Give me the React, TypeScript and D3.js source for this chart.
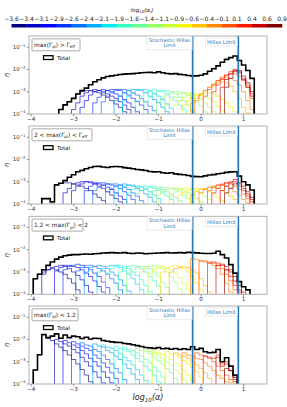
import React from 'react';
import * as d3 from 'd3';

// ---------- data ----------
const BIN0 = -3.95; // left edge of bin 0 (log10 alpha)
const BW = 0.1;     // bin width
const ALPHA_I = [-3.6, -3.35, -3.1, -2.85, -2.6, -2.35, -2.1, -1.85, -1.6, -1.35, -1.1, -0.85, -0.6, -0.35, -0.1, 0.15, 0.4, 0.65, 0.9];
const CB_LABELS = ['−3.6', '−3.4', '−3.1', '−2.9', '−2.6', '−2.4', '−2.1', '−1.9', '−1.6', '−1.4', '−1.1', '−0.9', '−0.6', '−0.4', '−0.1', '0.1', '0.4', '0.6', '0.9'];
const X_TICKS = [-4, -3, -2, -1, 0, 1];
const X_TICK_LABELS = ['−4', '−3', '−2', '−1', '0', '1'];
const Y_TICKS = [-4, -3, -2, -1];
const Y_TICK_LABELS = ['−4', '−3', '−2', '−1'];
const STOCHASTIC_LIMIT = -0.2;
const HILLAS_LIMIT = 0.875;

const PANEL_TEXT = [
  { pre: '', mid: ' > Γ', midSub: 'eff' },
  { pre: '2 < ', mid: ' < Γ', midSub: 'eff' },
  { pre: '1.2 < ', mid: ' < 2', midSub: '' },
  { pre: '', mid: ' < 1.2', midSub: '' },
];
const PANEL_BOX_W = [48, 60, 51, 46];

// totals (log10 eta), start bin
const TOTAL_START = [6, 2, 0, 0];
const TOTAL_1 = [-3.8, -3.59, -3.45, -3.3, -3.1, -2.95, -2.84, -2.69, -2.55, -2.46, -2.38, -2.32, -2.29, -2.26, -2.23, -2.21, -2.2, -2.19, -2.17, -2.15, -2.14, -2.13, -2.15, -2.11, -2.15, -2.18, -2.2, -2.19, -2.22, -2.24, -2.27, -2.29, -2.29, -2.26, -2.2, -2.08, -1.97, -1.84, -1.68, -1.55, -1.47, -1.4, -1.6, -1.8, -2.05, -2.4];
const TOTAL_2 = [-3.76, -3.76, -3.9, -3.14, -3.07, -2.95, -2.8, -2.69, -2.55, -2.49, -2.42, -2.36, -2.32, -2.31, -2.34, -2.36, -2.33, -2.32, -2.33, -2.37, -2.39, -2.42, -2.45, -2.47, -2.5, -2.54, -2.56, -2.55, -2.6, -2.62, -2.6, -2.65, -2.67, -2.69, -2.72, -2.76, -2.77, -2.78, -2.74, -2.7, -2.68, -2.64, -2.62, -2.58, -2.56, -2.55, -2.75, -3.0, -3.14, -3.37];
const TOTAL_3 = [-3.3, -3.1, -2.9, -2.7, -2.55, -2.42, -2.33, -2.27, -2.24, -2.22, -2.22, -2.2, -2.19, -2.2, -2.18, -2.17, -2.15, -2.14, -2.13, -2.14, -2.15, -2.13, -2.16, -2.17, -2.15, -2.16, -2.18, -2.17, -2.16, -2.15, -2.14, -2.13, -2.15, -2.14, -2.13, -2.14, -2.12, -2.13, -2.14, -2.16, -2.17, -2.17, -2.16, -2.07, -2.22, -2.37, -2.67, -3.05, -3.43, -3.66, -3.8];
const TOTAL_4 = [-3.37, -2.69, -1.78, -1.92, -1.85, -1.75, -1.95, -1.8, -1.92, -1.85, -1.88, -1.96, -1.9, -1.98, -1.95, -1.96, -2.05, -2.08, -2.11, -2.13, -2.14, -2.18, -2.2, -2.24, -2.28, -2.32, -2.36, -2.38, -2.4, -2.37, -2.42, -2.4, -2.44, -2.41, -2.45, -2.42, -2.45, -2.33, -2.45, -2.4, -2.55, -2.6, -2.58, -2.45, -3.0, -2.82, -3.2, -3.6];

// per-alpha_i series: start bins and log10 eta values
const P1_STARTS = [6, 9, 11, 14, 16, 19, 21, 24, 26, 29, 31, 33, 35, 37, 38, 40, 42, 44, 45];
const P1_VALUES = [
  [-3.8, -3.6, -3.45, -3.3, -3.1, -3.0, -2.95, -2.95, -3.0, -3.05, -3.15, -3.25, -3.4, -3.55, -3.7, -3.9],
  [-3.8, -3.5, -3.2, -3.05, -2.95, -2.9, -2.95, -3.0, -3.1, -3.2, -3.3, -3.45, -3.6, -3.8],
  [-3.7, -3.4, -3.15, -3.0, -2.95, -2.9, -2.95, -3.0, -3.1, -3.2, -3.35, -3.5, -3.7, -3.9],
  [-3.5, -3.25, -3.05, -2.95, -2.9, -2.9, -2.95, -3.05, -3.15, -3.3, -3.45, -3.6, -3.8],
  [-3.45, -3.2, -3.05, -2.95, -2.9, -2.9, -2.95, -3.05, -3.15, -3.3, -3.45, -3.65, -3.85],
  [-3.4, -3.2, -3.05, -2.95, -2.9, -2.9, -2.95, -3.05, -3.2, -3.35, -3.5, -3.7, -3.9],
  [-3.4, -3.2, -3.05, -2.95, -2.9, -2.9, -3.0, -3.1, -3.2, -3.35, -3.55, -3.75],
  [-3.4, -3.2, -3.05, -2.95, -2.9, -2.95, -3.0, -3.1, -3.25, -3.4, -3.6, -3.8],
  [-3.45, -3.25, -3.1, -3.0, -2.95, -2.95, -3.0, -3.1, -3.25, -3.4, -3.6, -3.85],
  [-3.5, -3.3, -3.15, -3.05, -3.0, -3.0, -3.05, -3.15, -3.3, -3.45, -3.65, -3.9],
  [-3.55, -3.35, -3.2, -3.1, -3.05, -3.05, -3.1, -3.2, -3.3, -3.5, -3.7, -3.9],
  [-3.6, -3.4, -3.25, -3.15, -3.1, -3.1, -3.15, -3.2, -3.3, -3.45, -3.65, -3.85],
  [-3.6, -3.4, -3.25, -3.15, -3.1, -3.05, -3.05, -3.1, -3.2, -3.35, -3.5, -3.7, -3.9],
  [-3.5, -3.3, -3.1, -2.95, -2.8, -2.7, -2.6, -2.55, -2.6, -2.75, -3.0, -3.3, -3.7, -3.95],
  [-3.4, -3.15, -2.95, -2.8, -2.65, -2.5, -2.4, -2.35, -2.4, -2.5, -2.7, -3.0, -3.4, -3.8],
  [-3.2, -2.9, -2.7, -2.5, -2.35, -2.25, -2.2, -2.2, -2.3, -2.5, -2.8, -3.3],
  [-3.0, -2.7, -2.45, -2.25, -2.1, -2.05, -2.1, -2.4, -2.7, -3.1],
  [-2.8, -2.45, -2.2, -2.0, -2.15, -2.45, -2.8, -3.2],
  [-2.8, -2.4, -2.1, -2.05, -2.3, -2.6, -3.0],
];
const P2_STARTS = [2, 7, 9, 12, 14, 17, 19, 22, 24, 27, 29, 32, 34, 37, 39, 41, 42, 44, 45];
const P2_VALUES = [
  [-3.76, -3.76, -3.95, -3.14, -3.07, -3.05, -3.05, -3.1, -3.15, -3.2, -3.3, -3.4, -3.55, -3.7, -3.85],
  [-3.5, -3.3, -3.1, -3.05, -3.0, -3.0, -3.05, -3.1, -3.2, -3.3, -3.45, -3.6, -3.75, -3.9],
  [-3.4, -3.2, -3.1, -3.0, -3.0, -3.05, -3.1, -3.15, -3.25, -3.35, -3.5, -3.65, -3.8],
  [-3.4, -3.2, -3.1, -3.05, -3.05, -3.1, -3.15, -3.2, -3.3, -3.45, -3.6, -3.8],
  [-3.4, -3.25, -3.15, -3.1, -3.1, -3.1, -3.15, -3.25, -3.35, -3.5, -3.65, -3.85],
  [-3.45, -3.3, -3.2, -3.15, -3.1, -3.15, -3.2, -3.3, -3.4, -3.55, -3.7, -3.9],
  [-3.5, -3.3, -3.2, -3.15, -3.15, -3.2, -3.25, -3.35, -3.45, -3.6, -3.75],
  [-3.5, -3.35, -3.25, -3.2, -3.2, -3.25, -3.3, -3.4, -3.5, -3.65, -3.8],
  [-3.55, -3.4, -3.3, -3.2, -3.2, -3.25, -3.35, -3.45, -3.55, -3.7, -3.85],
  [-3.55, -3.4, -3.3, -3.25, -3.25, -3.3, -3.35, -3.45, -3.6, -3.75, -3.9],
  [-3.6, -3.45, -3.35, -3.3, -3.3, -3.3, -3.4, -3.5, -3.6, -3.75, -3.9],
  [-3.6, -3.45, -3.35, -3.3, -3.3, -3.35, -3.4, -3.5, -3.65, -3.8],
  [-3.6, -3.5, -3.4, -3.35, -3.3, -3.3, -3.35, -3.45, -3.55, -3.7, -3.85],
  [-3.6, -3.45, -3.35, -3.3, -3.25, -3.25, -3.3, -3.4, -3.5, -3.65, -3.8],
  [-3.5, -3.35, -3.25, -3.2, -3.15, -3.15, -3.2, -3.3, -3.45, -3.6, -3.8, -3.95],
  [-3.4, -3.25, -3.15, -3.1, -3.05, -3.1, -3.2, -3.35, -3.55, -3.75],
  [-3.5, -3.3, -3.15, -3.05, -3.0, -3.0, -3.2, -3.4, -3.65, -3.9],
  [-3.4, -3.2, -3.05, -2.9, -3.1, -3.3, -3.55, -3.8],
  [-3.5, -3.3, -3.1, -3.05, -3.2, -3.45, -3.7],
];
const P3_STARTS = [0, 2, 5, 7, 10, 12, 15, 17, 20, 22, 25, 27, 30, 32, 37, 39, 41, 43, 45];
const P3_VALUES = [
  [-3.3, -3.1, -3.0, -2.9, -2.85, -2.9, -3.0, -3.1, -3.3, -3.5, -3.8],
  [-3.1, -2.9, -2.8, -2.75, -2.7, -2.75, -2.85, -3.0, -3.15, -3.35, -3.6, -3.9],
  [-2.95, -2.8, -2.7, -2.7, -2.75, -2.8, -2.9, -3.05, -3.2, -3.4, -3.65, -3.9],
  [-2.9, -2.75, -2.7, -2.65, -2.7, -2.8, -2.9, -3.05, -3.2, -3.45, -3.7],
  [-2.95, -2.8, -2.7, -2.7, -2.75, -2.85, -2.95, -3.1, -3.3, -3.5, -3.8],
  [-3.0, -2.8, -2.75, -2.7, -2.75, -2.85, -3.0, -3.15, -3.35, -3.6, -3.85],
  [-3.0, -2.85, -2.75, -2.7, -2.7, -2.8, -2.95, -3.1, -3.3, -3.55, -3.8],
  [-3.05, -2.85, -2.75, -2.7, -2.75, -2.85, -3.0, -3.15, -3.35, -3.6, -3.9],
  [-3.0, -2.85, -2.75, -2.7, -2.75, -2.85, -3.0, -3.2, -3.4, -3.65],
  [-3.05, -2.9, -2.8, -2.75, -2.75, -2.85, -3.0, -3.2, -3.45, -3.7],
  [-3.0, -2.85, -2.75, -2.7, -2.75, -2.85, -3.0, -3.2, -3.45, -3.75],
  [-3.05, -2.9, -2.8, -2.75, -2.8, -2.9, -3.05, -3.25, -3.5, -3.8],
  [-3.0, -2.85, -2.75, -2.7, -2.75, -2.85, -3.0, -3.2, -3.5, -3.8],
  [-3.0, -2.85, -2.8, -2.75, -2.8, -2.9, -3.05, -3.3, -3.6, -3.9],
  [-2.4, -2.45, -2.5, -2.55, -2.6, -2.7, -2.85, -3.1, -3.5, -3.9],
  [-2.5, -2.5, -2.55, -2.6, -2.7, -2.85, -3.1, -3.4, -3.8],
  [-2.6, -2.55, -2.6, -2.7, -2.9, -3.2, -3.6, -3.9],
  [-2.7, -2.65, -2.75, -3.0, -3.4, -3.8],
  [-2.9, -2.9, -3.2, -3.6, -3.9],
];
const P4_STARTS = [0, 5, 7, 9, 11, 14, 16, 19, 21, 24, 26, 28, 31, 33, 35, 38, 40, 43, 45];
const P4_VALUES = [
  [-3.37, -2.69, -1.8, -1.95, -2.05, -2.2, -2.35, -2.5, -2.7, -2.9, -3.1, -3.35, -3.6, -3.9],
  [-2.0, -2.1, -2.2, -2.3, -2.45, -2.6, -2.8, -3.0, -3.2, -3.45, -3.7, -3.95],
  [-2.05, -2.15, -2.25, -2.35, -2.5, -2.65, -2.85, -3.0, -3.2, -3.45, -3.7, -3.95],
  [-2.1, -2.2, -2.3, -2.4, -2.5, -2.7, -2.85, -3.05, -3.25, -3.5, -3.75],
  [-2.15, -2.25, -2.3, -2.45, -2.55, -2.7, -2.9, -3.1, -3.3, -3.5, -3.8],
  [-2.2, -2.3, -2.35, -2.5, -2.6, -2.75, -2.9, -3.1, -3.3, -3.55, -3.8],
  [-2.25, -2.35, -2.4, -2.5, -2.65, -2.8, -2.95, -3.15, -3.35, -3.6, -3.85],
  [-2.3, -2.4, -2.45, -2.55, -2.7, -2.85, -3.0, -3.2, -3.4, -3.6, -3.9],
  [-2.35, -2.45, -2.5, -2.6, -2.75, -2.9, -3.05, -3.25, -3.45, -3.7],
  [-2.4, -2.5, -2.55, -2.65, -2.8, -2.95, -3.1, -3.3, -3.5, -3.75],
  [-2.45, -2.55, -2.6, -2.7, -2.85, -3.0, -3.15, -3.35, -3.55, -3.8],
  [-2.5, -2.6, -2.65, -2.75, -2.9, -3.05, -3.2, -3.4, -3.6, -3.85],
  [-2.55, -2.65, -2.7, -2.8, -2.95, -3.1, -3.25, -3.45, -3.7],
  [-2.6, -2.7, -2.75, -2.85, -3.0, -3.15, -3.3, -3.5, -3.75],
  [-2.6, -2.7, -2.75, -2.85, -2.9, -3.05, -3.2, -3.4, -3.6, -3.75, -3.9, -3.95, -3.9],
  [-2.6, -2.7, -2.75, -2.85, -3.0, -3.2, -3.4, -3.6, -3.8, -3.9],
  [-2.75, -2.8, -2.85, -2.7, -3.1, -3.0, -3.4, -3.7],
  [-2.8, -3.2, -3.1, -3.4, -3.8],
  [-3.3, -3.4, -3.7],
];

const TOTALS = [TOTAL_1, TOTAL_2, TOTAL_3, TOTAL_4];
const STARTS = [P1_STARTS, P2_STARTS, P3_STARTS, P4_STARTS];
const VALUES = [P1_VALUES, P2_VALUES, P3_VALUES, P4_VALUES];

// ---------- layout ----------
const W = 287, H = 407;
const PANEL_BOTTOMS = [114, 204, 294.3, 384];
const PANEL_H = 78;
const X_RANGE = [29, 267];
const FONT = 'DejaVu Sans, sans-serif';
const BLUE = '#1f77b4';

function jet(t: number): string {
  const f = (pts: number[][]) => {
    for (let i = 0; i < pts.length - 1; i++) {
      const [x0, y0] = pts[i], [x1, y1] = pts[i + 1];
      if (t <= x1) return y0 + (y1 - y0) * (t - x0) / (x1 - x0);
    }
    return pts[pts.length - 1][1];
  };
  const r = f([[0, 0], [0.35, 0], [0.66, 1], [0.89, 1], [1, 0.5]]);
  const g = f([[0, 0], [0.125, 0], [0.375, 1], [0.64, 1], [0.91, 0], [1, 0]]);
  const b = f([[0, 0.5], [0.11, 1], [0.34, 1], [0.65, 0], [1, 0]]);
  return d3.rgb(r * 255, g * 255, b * 255).formatHex();
}

function stepPath(start: number, vals: number[], x: any, y: any): string {
  const floor = Math.pow(10, -4.6);
  const pts: [number, number][] = [];
  pts.push([BIN0 + BW * start, floor]);
  vals.forEach((v, j) => pts.push([BIN0 + BW * (start + j), Math.pow(10, Math.max(v, -4.6))]));
  pts.push([BIN0 + BW * (start + vals.length), floor]);
  const line = d3.line<[number, number]>().x(d => x(d[0])).y(d => y(d[1])).curve(d3.curveStepAfter);
  return line(pts) || '';
}

function Panel({ idx, x }: { idx: number; x: any }) {
  const bottom = PANEL_BOTTOMS[idx];
  const top = bottom - PANEL_H;
  const y = d3.scaleLog().domain([1e-4, Math.pow(10, -0.5)]).range([bottom, top]);
  const clipId = `clip${idx}`;
  const pt = PANEL_TEXT[idx];
  const xs = x(STOCHASTIC_LIMIT), xh = x(HILLAS_LIMIT);
  return (
    <g>
      <defs>
        <clipPath id={clipId}>
          <rect x={X_RANGE[0]} y={top} width={X_RANGE[1] - X_RANGE[0]} height={PANEL_H} />
        </clipPath>
      </defs>
      <rect x={X_RANGE[0]} y={top} width={X_RANGE[1] - X_RANGE[0]} height={PANEL_H} fill="#fff" />
      <g clipPath={`url(#${clipId})`}>
        {VALUES[idx].map((vals, k) => (
          <path key={k} d={stepPath(STARTS[idx][k], vals, x, y)} fill="none"
            stroke={jet(k / (ALPHA_I.length - 1))} strokeWidth={0.9} strokeOpacity={0.7} />
        ))}
        <path d={stepPath(TOTAL_START[idx], TOTALS[idx], x, y)} fill="none" stroke="#000" strokeWidth={1.6} />
        <line x1={xs} x2={xs} y1={top} y2={bottom} stroke={BLUE} strokeWidth={1.7} />
        <line x1={xh} x2={xh} y1={top} y2={bottom} stroke={BLUE} strokeWidth={1.7} />
      </g>
      <rect x={X_RANGE[0]} y={top} width={X_RANGE[1] - X_RANGE[0]} height={PANEL_H} fill="none" stroke="#a8a8a8" strokeWidth={0.9} />
      {X_TICKS.map((t, i) => (
        <g key={t}>
          <line x1={x(t)} x2={x(t)} y1={bottom} y2={bottom + 2.3} stroke="#555" strokeWidth={0.6} />
          <text x={x(t)} y={bottom + 7} fontSize={5.7} textAnchor="middle" fill="#333" fontFamily={FONT}>{X_TICK_LABELS[i]}</text>
        </g>
      ))}
      {Y_TICKS.map((t, i) => (
        <g key={t}>
          <line x1={X_RANGE[0] - 2.3} x2={X_RANGE[0]} y1={y(Math.pow(10, t))} y2={y(Math.pow(10, t))} stroke="#555" strokeWidth={0.6} />
          <text x={X_RANGE[0] - 3.5} y={y(Math.pow(10, t)) + 2} fontSize={5.5} textAnchor="end" fill="#333" fontFamily={FONT}>
            10<tspan fontSize={3.9} dy={-2.6}>{Y_TICK_LABELS[i]}</tspan>
          </text>
        </g>
      ))}
      <text transform={`translate(8.5, ${(top + bottom) / 2}) rotate(-90)`} fontSize={7} textAnchor="middle" fill="#333" fontFamily={FONT} fontStyle="italic">η</text>
      <rect x={32} y={top + 2.8} width={PANEL_BOX_W[idx]} height={12} fill="#fff" stroke="#888" strokeWidth={0.7} rx={0.8} />
      <text x={34} y={top + 11} fontSize={5.8} fill="#222" fontFamily={FONT}>
        {pt.pre}max(Γ<tspan fontSize={4} dy={1.3}>pi</tspan><tspan dy={-1.3}>){pt.mid}</tspan>
        {pt.midSub ? <tspan fontSize={4} dy={1.3}>{pt.midSub}</tspan> : null}
      </text>
      <rect x={43.5} y={top + 19.7} width={9.5} height={3.8} fill="none" stroke="#000" strokeWidth={1.3} />
      <text x={57} y={top + 23.6} fontSize={5.6} fill="#222" fontFamily={FONT}>Total</text>
      <rect x={xs - 45.5} y={top + 0.3} width={45} height={13.5} fill="#fff" fillOpacity={0.85} stroke="#ddd" strokeWidth={0.6} />
      <text x={xs - 23} y={top + 5.6} fontSize={5} textAnchor="middle" fill={BLUE} fontFamily={FONT}>Stochastic Hillas</text>
      <text x={xs - 23} y={top + 11.3} fontSize={5} textAnchor="middle" fill={BLUE} fontFamily={FONT}>Limit</text>
      <rect x={xh - 33} y={top + 2} width={32} height={8} fill="#fff" fillOpacity={0.85} stroke="#ddd" strokeWidth={0.6} />
      <text x={xh - 17} y={top + 7.8} fontSize={5.2} textAnchor="middle" fill={BLUE} fontFamily={FONT}>Hillas Limit</text>
    </g>
  );
}

export default function App() {
  const x = d3.scaleLinear().domain([-4.05, 1.55]).range(X_RANGE);
  const cb = d3.scaleLinear().domain([ALPHA_I[0], ALPHA_I[ALPHA_I.length - 1]]).range([11.5, 282]);
  const nSeg = ALPHA_I.length - 1;
  return (
    <svg width={W} height={H} viewBox={`0 0 ${W} ${H}`} style={{ position: 'absolute', left: 0, top: 0, background: '#fff' }}>
      <rect x={0} y={0} width={W} height={H} fill="#fff" />
      <text x={142} y={12.3} fontSize={5.6} textAnchor="middle" fill="#222" fontFamily={FONT} fontStyle="italic">
        log<tspan fontSize={3.9} dy={1.1}>10</tspan><tspan dy={-1.1}>(α</tspan><tspan fontSize={3.9} dy={1.1}>i</tspan><tspan dy={-1.1}>)</tspan>
      </text>
      {d3.range(nSeg).map(j => (
        <rect key={j} x={cb(ALPHA_I[j])} y={24} width={cb(ALPHA_I[j + 1]) - cb(ALPHA_I[j]) + 0.3} height={3.5} fill={jet(j / (nSeg - 1))} />
      ))}
      {ALPHA_I.map((a, i) => (
        <text key={i} x={cb(a)} y={21.2} fontSize={6} textAnchor="middle" fill="#222" fontFamily={FONT}>{CB_LABELS[i]}</text>
      ))}
      {[0, 1, 2, 3].map(i => <Panel key={i} idx={i} x={x} />)}
      <text x={148} y={400} fontSize={8} textAnchor="middle" fill="#222" fontFamily={FONT} fontStyle="italic">
        log<tspan fontSize={5.6} dy={1.8}>10</tspan><tspan dy={-1.8}>(α)</tspan>
      </text>
    </svg>
  );
}
